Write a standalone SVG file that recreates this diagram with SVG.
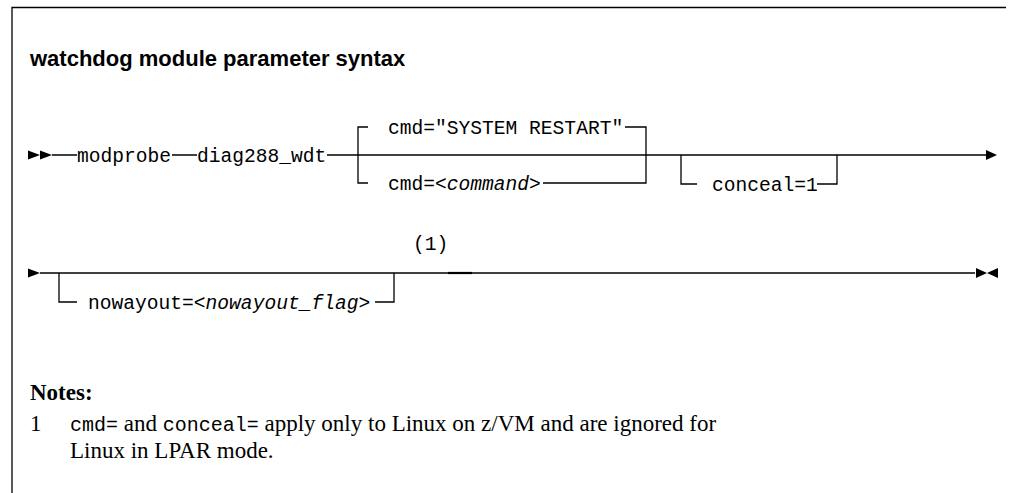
<svg xmlns="http://www.w3.org/2000/svg" width="1013" height="493" viewBox="0 0 1013 493">
<style>
.ln{stroke:#000;stroke-width:1.3;fill:none}
.mono{font-family:"Liberation Mono","DejaVu Sans Mono",monospace;font-size:19.6px;fill:#000}
.it{font-style:italic}
.title{font-family:"Liberation Sans",Arial,sans-serif;font-weight:bold;font-size:22px;fill:#000}
.serif{font-family:"Liberation Serif","Times New Roman",serif;font-size:23px;fill:#000}
.nm{font-family:"Liberation Mono","DejaVu Sans Mono",monospace;font-size:20px}
.ah{fill:#000}
</style>
<rect width="1013" height="493" fill="#fff"/>
<g id="frame" class="ln">
<path d="M12,493 V7.5 H1006"/>
</g>
<g id="title"><text class="title" x="30" y="66">watchdog module parameter syntax</text></g>
<g id="connectors">
<path class="ln" d="M52,155 H77 M172,155 H197 M327,155 H987"/>
<path class="ln" d="M358,155 V127 H368 M625,127 H646 V155"/>
<path class="ln" d="M358,155 V183 H368 M543,183 H646 V155"/>
<path class="ln" d="M681,155 V184 H697 M817,184 H837 V155"/>
<path class="ln" d="M40,273 H975"/>
<path class="ln" d="M59,273 V302 H77 M375,302 H394 V273"/>
<path d="M448,273 H472" stroke="#000" stroke-width="2.2"/>
<polygon class="ah" points="28,150.5 40,155 28,159.5"/>
<polygon class="ah" points="40,150.5 52,155 40,159.5"/>
<polygon class="ah" points="986,150 997,155 986,160"/>
<polygon class="ah" points="28,268.5 40,273 28,277.5"/>
<polygon class="ah" points="976,268 987,273 976,278"/>
<polygon class="ah" points="998,268 987,273 998,278"/>
</g>
<g id="modprobe"><text class="mono" x="77" y="162">modprobe</text></g>
<g id="diag288_wdt"><text class="mono" x="197" y="162">diag288_wdt</text></g>
<g id="cmd-default"><text class="mono" x="388" y="134">cmd="SYSTEM RESTART"</text></g>
<g id="cmd-command"><text class="mono" x="388" y="190">cmd=&lt;<tspan class="it">command</tspan>&gt;</text></g>
<g id="conceal"><text class="mono" x="712" y="191">conceal=1</text></g>
<g id="note-ref"><text class="mono" x="413" y="250">(1)</text></g>
<g id="nowayout"><text class="mono" x="88" y="309">nowayout=&lt;<tspan class="it">nowayout_flag</tspan>&gt;</text></g>
<g id="notes">
<text class="serif" x="30" y="400" font-weight="bold">Notes:</text>
<text class="serif" x="30" y="431">1</text>
<text class="serif" x="70" y="431"><tspan class="nm">cmd=</tspan> and <tspan class="nm">conceal=</tspan> apply only to Linux on z/VM and are ignored for</text>
<text class="serif" x="70" y="458">Linux in LPAR mode.</text>
</g>
</svg>
